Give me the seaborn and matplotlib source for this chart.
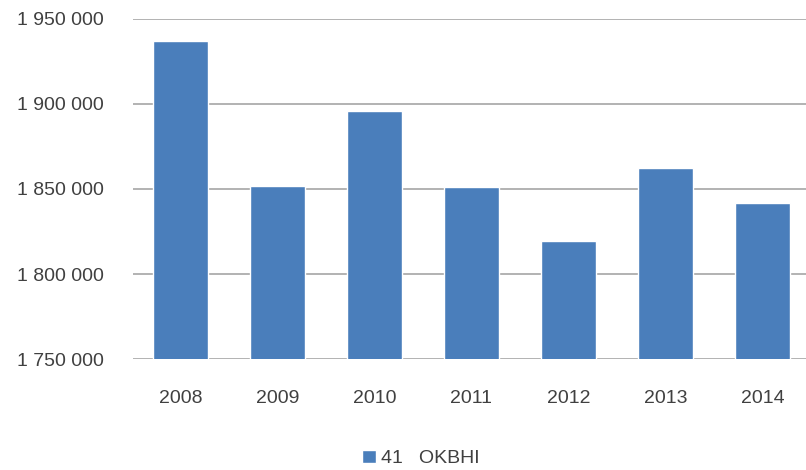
import matplotlib
matplotlib.use('Agg')
import matplotlib.pyplot as plt
import seaborn as sns
import pandas as pd
from matplotlib.ticker import FuncFormatter

# Dados do gráfico
years = ['2008', '2009', '2010', '2011', '2012', '2013', '2014']
values = [1937000, 1851800, 1895900, 1851200, 1819400, 1862300, 1841800]
legend_label = '41   OKBHI'

df = pd.DataFrame({'year': years, 'value': values})

sns.set_style('white')
plt.rcParams['font.family'] = ['Liberation Sans', 'DejaVu Sans']

fig = plt.figure(figsize=(8.06, 4.70), dpi=100)
ax = fig.add_axes([0.165, 0.236, 0.835, 0.724])

sns.barplot(data=df, x='year', y='value', color='#4a7ebb', saturation=1,
            width=0.57, ax=ax, label=legend_label)

ax.set_ylim(1750000, 1950000)
ax.set_yticks([1750000, 1800000, 1850000, 1900000, 1950000])
ax.yaxis.set_major_formatter(FuncFormatter(lambda v, p: f'{int(v):,}'.replace(',', ' ')))
ax.grid(axis='y', color='#a6a6a6', linewidth=1.2)
ax.set_axisbelow(True)
for s in ax.spines.values():
    s.set_visible(False)
ax.set_xlabel('')
ax.set_ylabel('')
ax.tick_params(axis='both', labelsize=14, labelcolor='#404040', length=0)
ax.tick_params(axis='x', pad=22)
ax.tick_params(axis='y', pad=21)
ax.set_xlim(-0.49, 6.45)

ax.legend(loc='upper center', bbox_to_anchor=(0.428, -0.215), frameon=False,
          fontsize=14, labelcolor='#404040', handlelength=0.7, handleheight=0.7,
          handletextpad=0.3)

plt.savefig('out.png', dpi=100)
